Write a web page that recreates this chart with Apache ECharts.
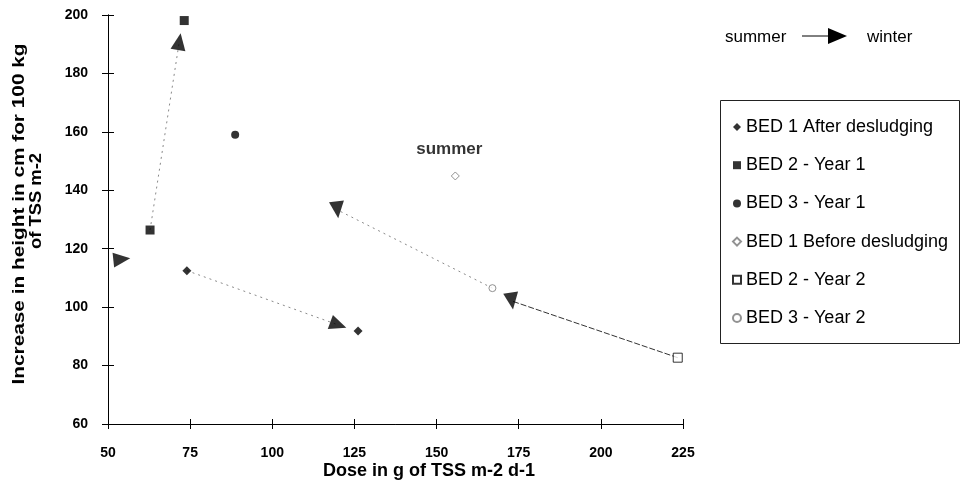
<!DOCTYPE html>
<html><head><meta charset="utf-8">
<script src="https://cdn.jsdelivr.net/npm/echarts@6/dist/echarts.min.js"></script>
<style>html,body{margin:0;padding:0;background:#fff}#c{width:960px;height:497px}</style>
</head><body><div id="c"></div>
<script>
// ---- data ----
const xTicks = [50, 75, 100, 125, 150, 175, 200, 225];
const yTicks = [60, 80, 100, 120, 140, 160, 180, 200];
const seriesNames = ['BED 1 After desludging', 'BED 2 - Year 1', 'BED 3 - Year 1',
                     'BED 1 Before desludging', 'BED 2 - Year 2', 'BED 3 - Year 2'];
const bed1After  = [[74, 112.5], [126.1, 91.8]];
const bed2Year1  = [[62.8, 126.4], [73.2, 198.1]];
const bed3Year1  = [[88.7, 159.0], [49.8, 113.9]];
const bed1Before = [[155.7, 144.9]];
const bed2Year2  = [[223.4, 82.7]];
const bed3Year2  = [[167.0, 106.5]];
// summer -> winter arrows
const arrowHeads = [[120.1, 93.9], [71.7, 190.9], [54.2, 116.4], [172.9, 102.1], [119.8, 133.3]];
const arrowRotation = [-110, -9, -84, 188, 186];
const dottedLinks = [
  [[74, 112.5], [120.1, 93.9]],
  [[62.8, 126.4], [71.7, 190.9]],
  [[167.0, 106.5], [119.8, 133.3]]
];
const darkLink = [[223.4, 82.7], [172.9, 102.1]];
const summerLabel = 'summer';

const FONT = '"Liberation Sans", Arial, sans-serif';
const chart = echarts.init(document.getElementById('c'), null, {renderer: 'canvas'});

const G = {left: 108, right: 277, top: 15, bottom: 73};
const gridW = 960 - G.left - G.right, gridH = 497 - G.top - G.bottom;

const baseAxis = {
  type: 'value', splitLine: {show: false},
  axisLine: {show: true, onZero: false, lineStyle: {color: '#000', width: 1}},
};
const xMin = xTicks[0], xMax = xTicks[xTicks.length - 1], xInt = xTicks[1] - xTicks[0];
const yMin = yTicks[0], yMax = yTicks[yTicks.length - 1], yInt = yTicks[1] - yTicks[0];

const series = [];
dottedLinks.forEach(seg => series.push({
  type: 'line', data: seg, showSymbol: false, symbol: 'none', silent: true, z: 1,
  lineStyle: {color: '#8a8a8a', width: 1, type: [2, 4]}
}));
series.push({
  type: 'line', data: darkLink, showSymbol: false, symbol: 'none', silent: true, z: 1,
  lineStyle: {color: '#333', width: 1, type: [6, 2]}
});
const mk = (name, data, symbol, size, open, faint) => ({
  name, type: 'scatter', data, symbol, symbolSize: size, z: 3,
  itemStyle: open
    ? {color: '#fff', borderColor: faint ? '#777' : '#000', borderWidth: 1}
    : {color: '#000'}
});
series.push(mk(seriesNames[0], bed1After, 'diamond', 9, false));
series.push(mk(seriesNames[1], bed2Year1, 'rect', 9, false));
series.push(mk(seriesNames[2], bed3Year1, 'circle', 8, false));
const s4 = mk(seriesNames[3], bed1Before, 'diamond', 8, true, true);
s4.label = {show: true, formatter: summerLabel, position: 'top', distance: 14, offset: [-6, 0],
            fontFamily: FONT, fontWeight: 'bold', fontSize: 17, color: '#000'};
series.push(s4);
series.push(mk(seriesNames[4], bed2Year2, 'rect', 9, true));
series.push(mk(seriesNames[5], bed3Year2, 'circle', 7, true, true));
// arrowheads are plotted on the mirrored axis pair (same scales) so those axes are in use
series.push({
  type: 'scatter', symbol: 'triangle', symbolSize: [15, 17], z: 4, silent: true,
  xAxisIndex: 1, yAxisIndex: 1,
  itemStyle: {color: '#000'},
  data: arrowHeads.map((p, i) => ({value: p, symbolRotate: arrowRotation[i]}))
});

chart.setOption({
  backgroundColor: '#fff',
  animation: false,
  textStyle: {fontFamily: FONT},
  grid: Object.assign({containLabel: false}, G),
  xAxis: [
    Object.assign({}, baseAxis, {min: xMin, max: xMax, interval: xInt, position: 'bottom',
      axisTick: {show: true, inside: false, length: 5, lineStyle: {color: '#000'}},
      axisLabel: {margin: 22, color: '#000', fontSize: 14, fontWeight: 'bold', fontFamily: FONT}}),
    // mirrored axis moved onto the bottom edge to draw the upper half of the crossing ticks
    Object.assign({}, baseAxis, {min: xMin, max: xMax, interval: xInt, position: 'top', offset: -gridH,
      axisTick: {show: true, inside: false, length: 5, lineStyle: {color: '#000'}},
      axisLabel: {show: false}})
  ],
  yAxis: [
    Object.assign({}, baseAxis, {min: yMin, max: yMax, interval: yInt, position: 'left',
      axisTick: {show: true, inside: false, length: 6, lineStyle: {color: '#000'}},
      axisLabel: {margin: 20, color: '#000', fontSize: 14, fontWeight: 'bold', fontFamily: FONT}}),
    Object.assign({}, baseAxis, {min: yMin, max: yMax, interval: yInt, position: 'right', offset: -gridW,
      axisTick: {show: true, inside: false, length: 6, lineStyle: {color: '#000'}},
      axisLabel: {show: false}})
  ],
  legend: {
    orient: 'vertical', left: 732, top: 117, padding: 0,
    itemWidth: 8, itemHeight: 8, itemGap: 18.2,
    textStyle: {fontSize: 18, lineHeight: 20, color: '#000', fontFamily: FONT},
    data: seriesNames
  },
  graphic: [
    {type: 'rect', shape: {x: 720.5, y: 100.5, width: 239, height: 243},
     style: {fill: 'none', stroke: '#222', lineWidth: 1}, z: 0},
    {type: 'text', x: 20, y: 214, rotation: Math.PI / 2, scaleX: 1.3,
     style: {text: 'Increase in height in cm for 100 kg', font: 'bold 16px ' + FONT, fill: '#000',
             align: 'center', verticalAlign: 'middle'}},
    {type: 'text', x: 37, y: 201, rotation: Math.PI / 2, scaleX: 1.15,
     style: {text: 'of TSS m-2', font: 'bold 16px ' + FONT, fill: '#000',
             align: 'center', verticalAlign: 'middle'}},
    {type: 'text', x: 429, y: 471,
     style: {text: 'Dose in g of TSS m-2 d-1', font: 'bold 18px ' + FONT, fill: '#000',
             align: 'center', verticalAlign: 'middle'}},
    {type: 'text', x: 725, y: 37,
     style: {text: 'summer', font: '17px ' + FONT, fill: '#000', align: 'left', verticalAlign: 'middle'}},
    {type: 'line', shape: {x1: 802, y1: 36, x2: 832, y2: 36}, style: {stroke: '#000', lineWidth: 1}},
    {type: 'polygon', shape: {points: [[828, 28], [847, 36], [828, 44]]}, style: {fill: '#000'}},
    {type: 'text', x: 867, y: 37,
     style: {text: 'winter', font: '17px ' + FONT, fill: '#000', align: 'left', verticalAlign: 'middle'}}
  ],
  series
});
</script></body></html>
